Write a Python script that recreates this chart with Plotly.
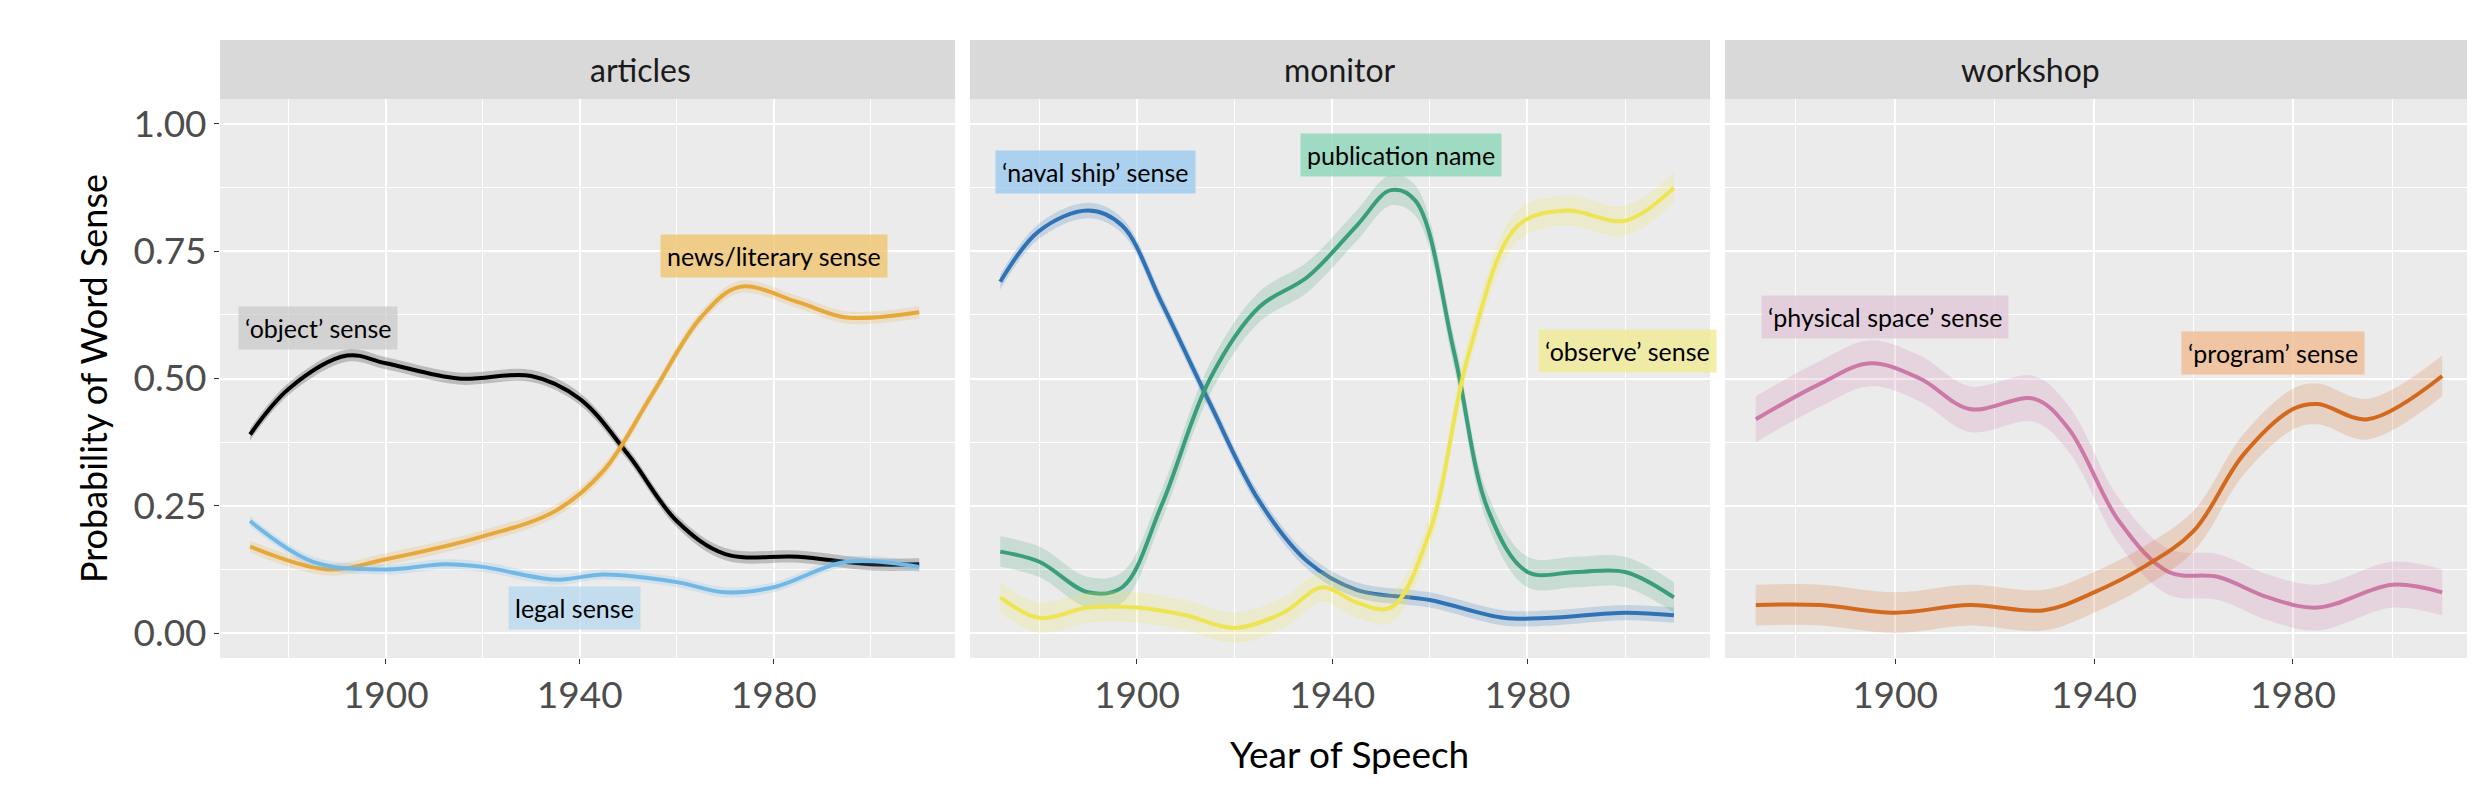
import plotly.graph_objects as go

# articles
obj_x = [1872, 1880, 1892, 1900, 1915, 1930, 1940, 1950, 1960, 1970, 1985, 2000, 2010]
obj_y = [0.39, 0.48, 0.545, 0.53, 0.50, 0.505, 0.46, 0.35, 0.22, 0.155, 0.15, 0.135, 0.135]
news_x = [1872, 1888, 1900, 1920, 1935, 1945, 1955, 1965, 1973, 1985, 1995, 2010]
news_y = [0.17, 0.125, 0.145, 0.19, 0.24, 0.32, 0.47, 0.62, 0.68, 0.65, 0.62, 0.63]
legal_x = [1872, 1885, 1900, 1912, 1920, 1935, 1945, 1960, 1970, 1980, 1995, 2010]
legal_y = [0.22, 0.14, 0.125, 0.135, 0.13, 0.105, 0.115, 0.10, 0.08, 0.09, 0.14, 0.13]

# monitor
naval_x = [1872, 1880, 1890, 1897, 1905, 1915, 1925, 1935, 1945, 1960, 1975, 1985, 2000, 2010]
naval_y = [0.69, 0.79, 0.83, 0.80, 0.65, 0.45, 0.26, 0.14, 0.085, 0.065, 0.03, 0.03, 0.04, 0.035]
pub_x = [1872, 1880, 1890, 1897, 1905, 1915, 1925, 1935, 1945, 1952, 1957, 1965, 1972, 1980, 1990, 2000, 2010]
pub_y = [0.16, 0.14, 0.08, 0.09, 0.25, 0.50, 0.64, 0.70, 0.80, 0.87, 0.85, 0.55, 0.24, 0.12, 0.12, 0.12, 0.07]
obs_x = [1872, 1880, 1890, 1900, 1910, 1920, 1930, 1938, 1945, 1952, 1960, 1968, 1978, 1988, 2000, 2010]
obs_y = [0.07, 0.03, 0.05, 0.05, 0.035, 0.01, 0.04, 0.09, 0.06, 0.05, 0.20, 0.55, 0.80, 0.83, 0.81, 0.875]

# workshop
phys_x = [1872, 1885, 1895, 1905, 1915, 1928, 1935, 1945, 1955, 1965, 1975, 1985, 2000, 2010]
phys_y = [0.42, 0.49, 0.53, 0.50, 0.44, 0.46, 0.40, 0.22, 0.12, 0.11, 0.07, 0.05, 0.095, 0.08]
prog_x = [1872, 1885, 1900, 1915, 1930, 1940, 1950, 1960, 1970, 1980, 1985, 1995, 2010]
prog_y = [0.055, 0.055, 0.04, 0.055, 0.045, 0.08, 0.13, 0.20, 0.35, 0.44, 0.45, 0.42, 0.505]

# confidence half-widths (per series)
ci = {"obj": 0.012, "news": 0.012, "legal": 0.01, "naval": 0.015,
      "pub": 0.03, "obs": 0.03, "phys": 0.045, "prog": 0.04}

series = [
    (1, obj_x, obj_y, "#000000", "obj"),
    (1, news_x, news_y, "#E6A83A", "news"),
    (1, legal_x, legal_y, "#72B8E6", "legal"),
    (2, naval_x, naval_y, "#2F72B5", "naval"),
    (2, pub_x, pub_y, "#3A9E7A", "pub"),
    (2, obs_x, obs_y, "#EEE452", "obs"),
    (3, phys_x, phys_y, "#CC79A7", "phys"),
    (3, prog_x, prog_y, "#D2691E", "prog"),
]

labels = [
    (1, 1886, 0.60, "‘object’ sense", "rgba(200,200,200,0.7)"),
    (1, 1980, 0.74, "news/literary sense", "rgba(240,196,110,0.8)"),
    (1, 1939, 0.05, "legal sense", "rgba(180,215,240,0.7)"),
    (2, 1891.5, 0.905, "‘naval ship’ sense", "rgba(150,200,240,0.75)"),
    (2, 1954, 0.94, "publication name", "rgba(140,215,185,0.8)"),
    (2, 2000.5, 0.555, "‘observe’ sense", "rgba(240,235,150,0.8)"),
    (3, 1898, 0.62, "‘physical space’ sense", "rgba(225,200,215,0.8)"),
    (3, 1976, 0.55, "‘program’ sense", "rgba(240,190,150,0.85)"),
]

panels = ["articles", "monitor", "workshop"]
domains = [(0.0, 0.3254), (0.332, 0.6596), (0.6662, 1.0)]
ytop = 0.9045


def rgba(h, a):
    h = h.lstrip("#")
    return "rgba(%d,%d,%d,%s)" % (int(h[0:2], 16), int(h[2:4], 16), int(h[4:6], 16), a)


fig = go.Figure()
for p, xs, ys, col, key in series:
    xa = "x" if p == 1 else "x%d" % p
    ya = "y" if p == 1 else "y%d" % p
    w = ci[key]
    fig.add_trace(go.Scatter(x=xs, y=[v + w for v in ys], xaxis=xa, yaxis=ya, mode="lines",
                             line=dict(width=0, shape="spline", smoothing=1.0), hoverinfo="skip",
                             showlegend=False))
    fig.add_trace(go.Scatter(x=xs, y=[v - w for v in ys], xaxis=xa, yaxis=ya, mode="lines",
                             line=dict(width=0, shape="spline", smoothing=1.0), fill="tonexty",
                             fillcolor=rgba(col, 0.2), hoverinfo="skip", showlegend=False))
    fig.add_trace(go.Scatter(x=xs, y=ys, xaxis=xa, yaxis=ya, mode="lines",
                             line=dict(color=col, width=4, shape="spline", smoothing=1.0),
                             showlegend=False))

tickfont = dict(size=37, color="#4d4d4d", family="Lato")
axis_common = dict(range=[1865.8, 2017.4], tickvals=[1900, 1940, 1980], showgrid=True,
                   gridcolor="white", gridwidth=2, zeroline=False, ticks="outside", ticklen=5,
                   tickcolor="#333", tickfont=tickfont, automargin=False,
                   minor=dict(tickvals=[1880, 1920, 1960, 2000], showgrid=True,
                              gridcolor="white", gridwidth=1))
yaxis_common = dict(range=[-0.049, 1.049], tickvals=[0, 0.25, 0.5, 0.75, 1.0],
                    showgrid=True, gridcolor="white", gridwidth=2, zeroline=False,
                    domain=[0, ytop], automargin=False,
                    minor=dict(tickvals=[0.125, 0.375, 0.625, 0.875], showgrid=True,
                               gridcolor="white", gridwidth=1))

layout = dict(width=2475, height=801, plot_bgcolor="#EBEBEB", paper_bgcolor="white",
              margin=dict(l=212, r=4, t=32, b=151), showlegend=False)
for i in range(3):
    sfx = "" if i == 0 else str(i + 1)
    layout["xaxis" + sfx] = dict(axis_common, domain=list(domains[i]), anchor="y" + sfx)
    yax = dict(yaxis_common, anchor="x" + sfx)
    if i == 0:
        yax.update(ticks="outside", ticklen=5, tickcolor="#333", tickformat=".2f",
                   tickfont=tickfont,
                   title=dict(text="Probability of Word Sense",
                              font=dict(size=36, color="black", family="Lato"), standoff=14))
    else:
        yax.update(matches="y", showticklabels=False)
    layout["yaxis" + sfx] = yax
fig.update_layout(**layout)

shapes = []
annotations = []
for i, name in enumerate(panels):
    d0, d1 = domains[i]
    shapes.append(dict(type="rect", xref="paper", yref="paper", x0=d0, x1=d1, y0=ytop, y1=1.0,
                       fillcolor="#D9D9D9", line=dict(width=0), layer="below"))
    annotations.append(dict(xref="paper", yref="paper", x=(d0 + d1) / 2, y=(ytop + 1) / 2,
                            yanchor="middle", text=name, showarrow=False,
                            font=dict(size=32, color="#1a1a1a", family="Lato")))
for p, x, y, txt, bg in labels:
    sfx = "" if p == 1 else str(p)
    annotations.append(dict(xref="x" + sfx, yref="y" + sfx, x=x, y=y, text=txt, showarrow=False,
                            bgcolor=bg, borderpad=6, font=dict(size=25, color="black",
                                                               family="Lato")))
annotations.append(dict(xref="paper", yref="paper", x=0.5, y=-0.154, yanchor="middle",
                        text="Year of Speech", showarrow=False,
                        font=dict(size=37, color="black", family="Lato")))
fig.update_layout(shapes=shapes, annotations=annotations)

fig.write_html("out.html")
